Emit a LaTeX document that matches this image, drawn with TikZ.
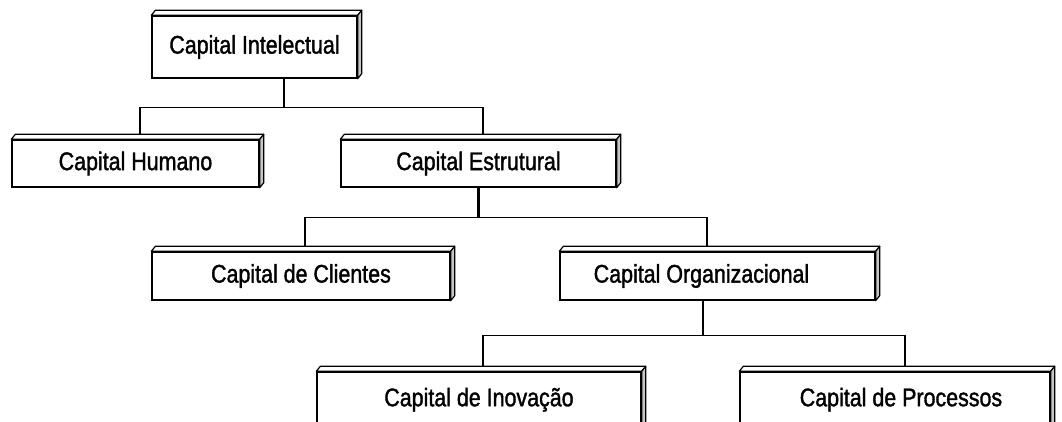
\documentclass[tikz,border=0pt]{standalone}
\usepackage{fontspec}
\setmainfont{Liberation Sans}[FakeStretch=0.84, FakeBold=1.4]
\usetikzlibrary{positioning,calc}

\tikzset{
    caixa/.style={draw, line width=1.4pt, inner sep=0pt, fill=white,
        font=\fontsize{25.5}{30}\selectfont},
    face/.style={draw, line width=1.2pt, fill=white, line join=round},
    lado/.style={draw, line width=1.2pt, fill=gray!45, line join=round},
    ligacao/.style={line width=1.3pt},
    tronco/.style={line width=2.6pt}
}

% relevo das caixas (topo e lado direito)
\newcommand{\relevo}[1]{%
    \draw[face] (#1.north west) -- ++(4,-5)
        -- ([shift={(4,-5)}]#1.north east) -- (#1.north east) -- cycle;
    \draw[lado] (#1.north east) -- ++(4,-5)
        -- ([shift={(4,-5)}]#1.south east) -- (#1.south east) -- cycle;
}

\begin{document}
\begin{tikzpicture}[x=1pt, y=-1pt]

\useasboundingbox (0,0) rectangle (1062,421);
\clip (0,0) rectangle (1062,421);

% Primeiro nivel
\node[caixa, minimum width=205pt, minimum height=62pt] (ci) at (254.5,47)
    {Capital Intelectual};

% Segundo nivel
\node[caixa, minimum width=247pt, minimum height=47pt] (hum) at (135.5,163.5)
    {Capital Humano};
\node[caixa, minimum width=275pt, minimum height=47pt] (est) at (478.5,163.5)
    {Capital Estrutural};

% Terceiro nivel
\node[caixa, minimum width=298pt, minimum height=48pt] (cli) at (301,276)
    {Capital de Clientes};
\node[caixa, minimum width=315pt, minimum height=48pt] (org) at (717.5,276)
    {\kern-32pt Capital Organizacional};

% Quarto nivel
\node[caixa, minimum width=324pt, minimum height=62pt] (ino) at (479,403)
    {\raisebox{12pt}{Capital de Inova\c{c}\~ao}};
\node[caixa, minimum width=310pt, minimum height=62pt] (pro) at (895,403)
    {\raisebox{12pt}{\kern12pt Capital de Processos}};

\relevo{ci}
\relevo{hum}
\relevo{est}
\relevo{cli}
\relevo{org}
\relevo{ino}
\relevo{pro}

% Ligacoes
\draw[ligacao] ([xshift=29.5]ci.south) -- ++(0,29) coordinate (j1);
\draw[ligacao] ([shift={(4.5,-5)}]hum.north) |- (j1)
    -| ([shift={(4.5,-5)}]est.north);

\draw[tronco] (est.south) -- ++(0,30) coordinate (j2);
\draw[ligacao] ([shift={(4,-5)}]cli.north) |- (j2)
    -| ([shift={(-10.5,-5)}]org.north);

\draw[tronco] ([xshift=-14.5]org.south) -- ++(0,35) coordinate (j3);
\draw[ligacao] ([shift={(4,-5)}]ino.north) |- (j3)
    -| ([shift={(10,-5)}]pro.north);

\end{tikzpicture}
\end{document}
